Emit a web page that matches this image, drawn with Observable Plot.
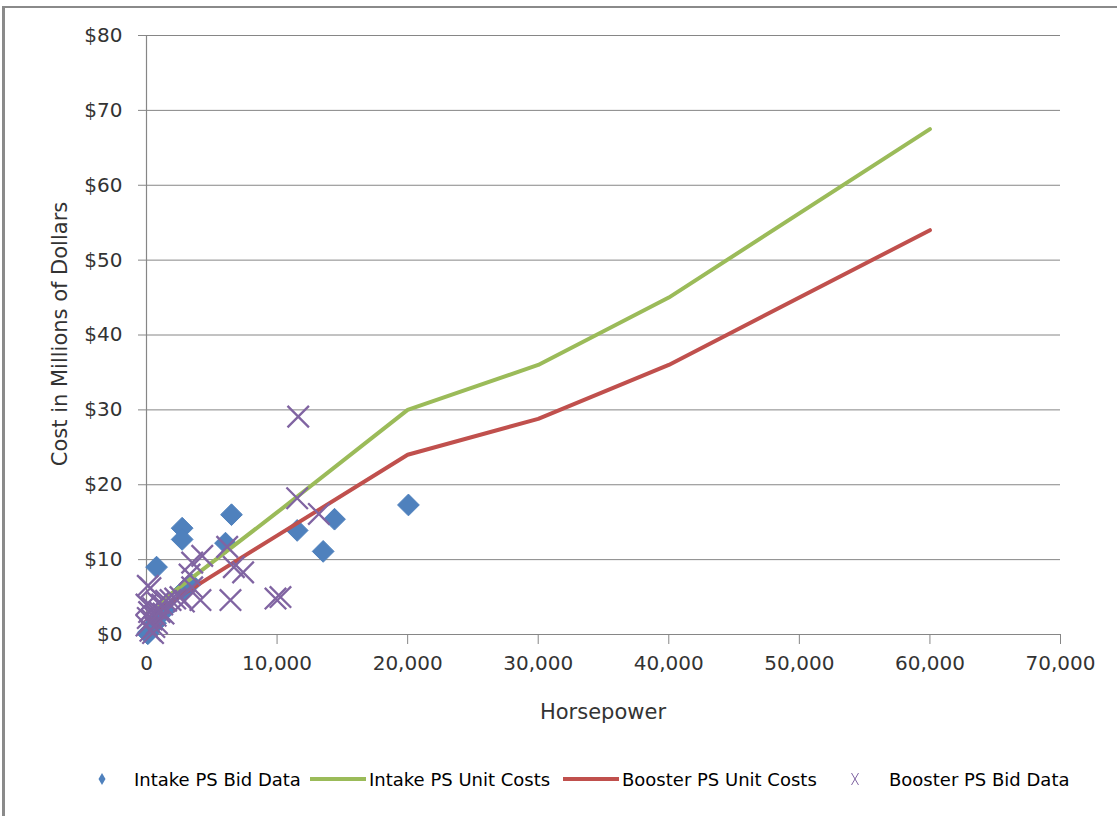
<!DOCTYPE html>
<html>
<head>
<meta charset="utf-8">
<script src="https://cdn.jsdelivr.net/npm/d3@7"></script>
<script src="https://cdn.jsdelivr.net/npm/@observablehq/plot@0.6"></script>
<style>
  html, body { margin: 0; padding: 0; background: #fff; }
  body { width: 1117px; height: 816px; position: relative; overflow: hidden; font-family: "DejaVu Sans", sans-serif; }
  #frame { position: absolute; left: 2px; top: 6px; width: 1200px; height: 900px; border-left: 3px solid #8a8a8a; border-top: 2px solid #8a8a8a; }
  #chart { position: absolute; left: 0; top: 0; }
  .lbl { position: absolute; color: #333; font-size: 21px; white-space: nowrap; }
  #ylab { left: 60px; top: 334px; transform: translate(-50%, -50%) rotate(-90deg); }
  #xlab { left: 603px; top: 712px; transform: translate(-50%, -50%); }
  .leg { position: absolute; top: 779px; transform: translateY(-50%); font-size: 18px; color: #000; white-space: nowrap; }
  .sw { position: absolute; top: 779px; transform: translateY(-50%); }
</style>
</head>
<body>
<div id="frame"></div>
<div id="chart"></div>
<div id="ylab" class="lbl">Cost in Millions of Dollars</div>
<div id="xlab" class="lbl">Horsepower</div>
<div id="legend"></div>
<script>
// ---- data ----
const intakeBidHp   = [150, 100, 700, 1400, 770, 2730, 2730, 3400, 2900, 6050, 6510, 11540, 13530, 14400, 20060];
const intakeBidCost = [0.3, 0.1, 1.5, 3.2, 9.0, 14.2, 12.7, 6.8, 6.0, 12.2, 16.0, 13.9, 11.1, 15.4, 17.3];

const intakeUnitHp   = [1000, 2000, 5000, 10000, 20000, 30000, 40000, 60000];
const intakeUnitCost = [4.0, 5.6, 9.6, 16.3, 30.0, 36.0, 45.0, 67.5];

const boosterUnitHp   = [1000, 2000, 5000, 10000, 20000, 30000, 40000, 60000];
const boosterUnitCost = [3.3, 4.5, 7.8, 13.2, 24.0, 28.8, 36.0, 54.0];

const boosterBidHp   = [11620, 11540, 13200, 9880, 10260, 4270, 3500, 6180, 6690, 7400, 6430, 4130, 3300, 2600, 2860, 1840, 300, 100,
                        0, 200, 400, 500, 700, 800, 1000, 1200, 600, 300, 1500, 900, 100, 1300, 2200, 3500, 0, 500];
const boosterBidCost = [29.1, 18.2, 16.1, 4.8, 5.0, 10.5, 9.6, 11.7, 9.0, 8.3, 4.6, 4.6, 8.0, 5.0, 4.4, 4.6, 6.2, 6.5,
                        4.0, 3.0, 2.0, 3.5, 2.5, 1.5, 3.0, 4.0, 1.0, 0.5, 4.5, 4.2, 2.2, 2.8, 4.8, 6.3, 1.2, 0.2];

const xTicks = [0, 10000, 20000, 30000, 40000, 50000, 60000, 70000];
const yTicks = [0, 10, 20, 30, 40, 50, 60, 70, 80];

const seriesNames = ["Intake PS Bid Data", "Intake PS Unit Costs", "Booster PS Unit Costs", "Booster PS Bid Data"];
const colors = {blue: "#4F81BD", green: "#9BBB59", red: "#C0504D", purple: "#8064A2"};

// ---- tables ----
const zip = (xs, ys) => xs.map((x, i) => ({hp: x, cost: ys[i]}));
const intakeBid = zip(intakeBidHp, intakeBidCost);
const intakeUnit = zip(intakeUnitHp, intakeUnitCost);
const boosterUnit = zip(boosterUnitHp, boosterUnitCost);
const boosterBid = zip(boosterBidHp, boosterBidCost);

const grid = "#868686";

const chart = Plot.plot({
  width: 1117,
  height: 690,
  marginLeft: 146,
  marginRight: 57,
  marginTop: 35,
  marginBottom: 56,
  style: {fontFamily: "'DejaVu Sans', sans-serif", fontSize: "20px", color: "#333", background: "transparent", overflow: "visible"},
  x: {domain: [0, 70000]},
  y: {domain: [0, 80]},
  marks: [
    Plot.ruleY(yTicks.slice(1), {stroke: grid, strokeWidth: 1}),
    Plot.ruleX([0], {stroke: grid, strokeWidth: 1.2}),
    Plot.ruleY([0], {stroke: grid, strokeWidth: 1.2}),
    Plot.axisY({ticks: yTicks, tickFormat: d => "$" + d, tickSize: 8, tickPadding: 16, stroke: grid, label: null}),
    Plot.axisX({ticks: xTicks, tickFormat: d3.format(","), tickSize: 10, tickPadding: 11, stroke: grid, label: null}),
    Plot.dot(intakeBid, {x: "hp", y: "cost", symbol: "diamond2", r: 9.8, fill: colors.blue, stroke: colors.blue, strokeWidth: 1}),
    Plot.line(intakeUnit, {x: "hp", y: "cost", stroke: colors.green, strokeWidth: 4, curve: "linear"}),
    Plot.line(boosterUnit, {x: "hp", y: "cost", stroke: colors.red, strokeWidth: 4, curve: "linear"}),
    Plot.dot(boosterBid, {x: "hp", y: "cost", symbol: "times", r: 9.8, stroke: colors.purple, strokeWidth: 2.3})
  ]
});
document.getElementById("chart").appendChild(chart);

// ---- legend ----
const legend = document.getElementById("legend");
const ns = "http://www.w3.org/2000/svg";
function swatch(left, kind, color) {
  const s = document.createElementNS(ns, "svg");
  s.setAttribute("class", "sw");
  let w = kind === "line" ? 56 : 14;
  s.setAttribute("width", w); s.setAttribute("height", 18);
  s.style.left = left + "px";
  s.style.position = "absolute";
  if (kind === "line") {
    s.innerHTML = `<line x1="0" x2="${w}" y1="9" y2="9" stroke="${color}" stroke-width="4"/>`;
  } else if (kind === "diamond") {
    s.innerHTML = `<path d="M7,3 L10.5,9 L7,15 L3.5,9 Z" fill="${color}"/>`;
  } else {
    s.innerHTML = `<path d="M3.5,3 L10.5,15 M10.5,3 L3.5,15" stroke="${color}" stroke-width="1"/>`;
  }
  legend.appendChild(s);
}
function label(left, text) {
  const d = document.createElement("div");
  d.className = "leg"; d.style.left = left + "px"; d.textContent = text;
  legend.appendChild(d);
}
swatch(95, "diamond", colors.blue);    label(134, seriesNames[0]);
swatch(310, "line", colors.green);     label(369, seriesNames[1]);
swatch(563, "line", colors.red);       label(622, seriesNames[2]);
swatch(848, "x", colors.purple);       label(889, seriesNames[3]);
</script>
</body>
</html>
